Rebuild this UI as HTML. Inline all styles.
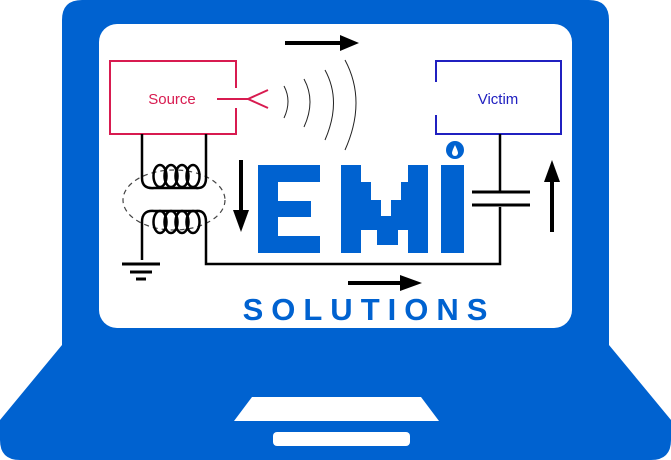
<!DOCTYPE html>
<html><head><style>body{margin:0;background:#fff}svg{display:block}</style></head><body>
<svg width="671" height="460" viewBox="0 0 671 460" xmlns="http://www.w3.org/2000/svg">
<path d="M82 0H589Q609 0 609 20V345L671 420V440Q671 460 651 460H20Q0 460 0 440V420L62 345V20Q62 0 82 0Z" fill="#0062d0"/>
<rect x="99" y="24" width="473" height="304" rx="18" fill="#fff"/>
<path d="M252 397H421L439 421H234Z" fill="#fff"/>
<rect x="273" y="432" width="137" height="14" rx="4" fill="#fff"/>
<path d="M236 88V61H110V134H236V108" fill="none" stroke="#d81b50" stroke-width="2"/>
<text x="172" y="104" font-family="Liberation Sans,sans-serif" font-size="15" fill="#d81b50" text-anchor="middle">Source</text>
<path d="M217 99H248M248 99L268 90M248 99L268 108" stroke="#d81b50" stroke-width="2" fill="none"/>
<path d="M436 82V61H561V134H436V115" fill="none" stroke="#2020c0" stroke-width="2"/>
<text x="498" y="104" font-family="Liberation Sans,sans-serif" font-size="15" fill="#2020c0" text-anchor="middle">Victim</text>
<g fill="none" stroke="#222" stroke-width="1">
<path d="M284 86Q292 101 284 118"/><path d="M304 79Q316 101 304 127"/><path d="M325 70Q342 101 325 140"/><path d="M345 60Q367 101 345 150"/>
</g>
<g stroke="#000" stroke-width="4" fill="#000">
<path d="M285 43H340"/><path d="M340 35L359 43L340 51Z" stroke="none"/>
<path d="M241 160V212"/><path d="M233 210L241 232L249 210Z" stroke="none"/>
<path d="M552 232V180"/><path d="M544 182L552 160L560 182Z" stroke="none"/>
<path d="M348 283H402"/><path d="M400 275L422 283L400 291Z" stroke="none"/>
</g>
<ellipse cx="174" cy="200" rx="51" ry="30" fill="none" stroke="#444" stroke-width="1.2" stroke-dasharray="5 4"/>
<g fill="none" stroke="#000" stroke-width="2.5">
<path d="M142 134V178Q142 189 154 188H196Q206 189 206 178V134"/>
<ellipse cx="160" cy="176" rx="6.5" ry="11"/><ellipse cx="171" cy="176" rx="6.5" ry="11"/><ellipse cx="182" cy="176" rx="6.5" ry="11"/><ellipse cx="193" cy="176" rx="6.5" ry="11"/>
<path d="M142 260V222Q142 210 154 211H196Q206 210 206 222V264H500V207"/>
<ellipse cx="160" cy="222" rx="6.5" ry="11"/><ellipse cx="171" cy="222" rx="6.5" ry="11"/><ellipse cx="182" cy="222" rx="6.5" ry="11"/><ellipse cx="193" cy="222" rx="6.5" ry="11"/>
<path d="M500 134V192"/>
</g>
<g stroke="#000" stroke-width="3">
<path d="M122 264H160M130 272H152M136 279H146"/>
<path d="M472 192H530M472 205H530"/>
</g>
<g fill="#0062d0">
<path d="M258 165H320V182H278V201H311V217H278V236H320V253H258Z"/>
<path d="M341 165H361V182H371V200H381V216H391V200H401V182H408V165H428V253H408V230H398V245H377V230H361V253H341Z"/>
<rect x="441" y="165" width="23" height="88"/>
<circle cx="455" cy="150" r="9"/>
</g>
<path d="M455 145Q452 151 452 153A3 3 0 0 0 458 153Q458 151 455 145Z" fill="#fff"/>
<text x="369" y="320" font-family="Liberation Sans,sans-serif" font-weight="bold" font-size="31" fill="#0062d0" text-anchor="middle" letter-spacing="8">SOLUTIONS</text>
</svg>
</body></html>
